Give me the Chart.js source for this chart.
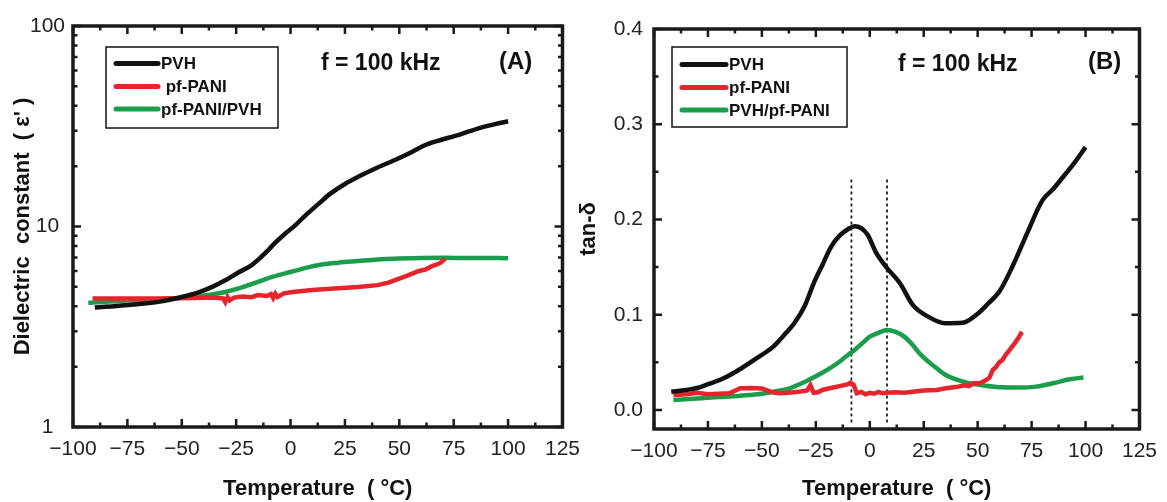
<!DOCTYPE html>
<html>
<head>
<meta charset="utf-8">
<script src="https://cdn.jsdelivr.net/npm/chart.js@4.4.1/dist/chart.umd.min.js"></script>
<style>
  body { margin: 0; background: #fff; }
  #wrap { position: relative; width: 1167px; height: 502px; overflow: hidden; }
  #chartA { position: absolute; left: 0; top: 0; }
  #chartB { position: absolute; left: 570px; top: 0; }
</style>
</head>
<body>
<div id="wrap">
  <canvas id="chartA" width="590" height="502"></canvas>
  <canvas id="chartB" width="597" height="502"></canvas>
</div>
<script>
// (A) dielectric constant vs temperature
const tempPvhA = [-90, -76, -60, -50, -42, -36, -30, -24, -18, -12, -7, -2, 2, 7, 13, 18, 25, 32, 40, 49, 56, 62, 69, 76, 82, 88, 94, 100];
const epsPvhA = [3.94, 4.05, 4.22, 4.45, 4.71, 5.0, 5.39, 5.9, 6.4, 7.3, 8.3, 9.3, 10.1, 11.4, 13.0, 14.5, 16.3, 17.9, 19.7, 21.7, 23.6, 25.5, 27.0, 28.4, 29.8, 31.2, 32.4, 33.5];

const tempPaniA = [-91, -75, -60, -45, -35, -31, -30, -29, -28, -26, -22, -18, -15, -11, -9, -8, -7, -6, -3, 0, 10, 20, 31, 40, 45, 49, 54, 59, 62, 65, 67, 69, 71];
const epsPaniA = [4.37, 4.38, 4.38, 4.4, 4.42, 4.38, 4.2, 4.45, 4.28, 4.42, 4.48, 4.44, 4.55, 4.5, 4.6, 4.4, 4.62, 4.45, 4.64, 4.7, 4.82, 4.9, 4.99, 5.1, 5.25, 5.45, 5.7, 6.0, 6.1, 6.35, 6.45, 6.6, 6.88];

const tempMixA = [-93, -75, -60, -45, -38, -30, -22, -15, -8, 0, 8, 15, 22, 31, 40, 50, 60, 70, 80, 90, 100];
const epsMixA = [4.16, 4.28, 4.35, 4.45, 4.55, 4.71, 4.98, 5.29, 5.62, 5.93, 6.25, 6.48, 6.6, 6.72, 6.84, 6.92, 6.97, 6.98, 6.97, 6.96, 6.95];

// (B) tan delta vs temperature
const tempPvhB = [-92, -85, -80, -75, -68, -60, -52, -45, -40, -35, -30, -26, -22, -18, -14, -10, -7, -4, -1, 3, 8, 14, 20, 27, 35, 43, 50, 55, 60, 66, 73, 80, 85, 89, 95, 100];
const tanPvhB = [0.019, 0.021, 0.023, 0.027, 0.033, 0.043, 0.055, 0.066, 0.078, 0.091, 0.11, 0.133, 0.152, 0.171, 0.183, 0.19, 0.193, 0.191, 0.184, 0.165, 0.149, 0.133, 0.11, 0.098, 0.091, 0.0915, 0.101, 0.112, 0.124, 0.150, 0.186, 0.22, 0.232, 0.243, 0.26, 0.276];

const tempPaniB = [-91, -85, -80, -75, -70, -65, -60, -55, -50, -45, -42, -38, -33, -29, -27.5, -26, -24, -22, -18, -14, -10, -9, -7.5, -6, -4, -2, 0, 2, 4, 6, 8, 12, 16, 20, 25, 31, 36, 40, 44, 46, 48, 51, 54, 55.5, 57, 58.5, 60, 61.5, 63, 64.5, 66, 67.5, 69, 70.5];
const tanPaniB = [0.0158, 0.0165, 0.018, 0.0165, 0.017, 0.0175, 0.0228, 0.023, 0.0225, 0.0185, 0.0175, 0.018, 0.019, 0.0205, 0.026, 0.018, 0.0185, 0.021, 0.023, 0.025, 0.027, 0.0287, 0.0265, 0.0175, 0.019, 0.0165, 0.018, 0.017, 0.019, 0.0175, 0.018, 0.0185, 0.018, 0.019, 0.0205, 0.021, 0.023, 0.024, 0.026, 0.025, 0.028, 0.028, 0.0315, 0.034, 0.042, 0.045, 0.05, 0.0525, 0.058, 0.062, 0.0665, 0.071, 0.076, 0.082];

const tempMixB = [-91, -80, -70, -60, -50, -45, -38, -30, -22, -15, -10, -7, -3, 0, 4, 8, 12, 16, 20, 23, 27, 31, 35, 40, 46, 52, 61, 70, 77, 85, 92, 99];
const tanMixB = [0.0105, 0.012, 0.0135, 0.015, 0.017, 0.019, 0.022, 0.0297, 0.039, 0.049, 0.058, 0.063, 0.071, 0.077, 0.081, 0.084, 0.082, 0.077, 0.068, 0.0595, 0.051, 0.0438, 0.037, 0.032, 0.028, 0.026, 0.0238, 0.0235, 0.0245, 0.028, 0.032, 0.034];

// dotted guides at the two peaks
const peakTemps = [-8.5, 8];
const guideTan = [0.242, -0.015];

const xTickVals = [-100, -75, -50, -25, 0, 25, 50, 75, 100, 125];
const yTickValsA = [1, 10, 100];
const yTickValsB = [0, 0.1, 0.2, 0.3, 0.4];

const BLACK = '#111111', RED = '#e6242b', GREEN = '#1b9e4b';
Chart.defaults.font.family = "'Liberation Sans', Arial, sans-serif";
Chart.defaults.color = '#222';

function pts(xs, ys) {
  return xs.map((x, i) => ({ x: x, y: ys[i] }));
}

function series(label, xs, ys, color, smooth) {
  return {
    label: label,
    data: pts(xs, ys),
    borderColor: color,
    borderWidth: 4.5,
    pointRadius: 0,
    fill: false,
    tension: smooth ? 0.4 : 0,
    cubicInterpolationMode: smooth ? 'monotone' : 'default'
  };
}

function minors(majors, log) {
  const out = [];
  for (let i = 0; i < majors.length - 1; i++) {
    if (log) { for (let k = 2; k < 10; k++) out.push(majors[i] * k); }
    else out.push((majors[i] + majors[i + 1]) / 2);
  }
  return out;
}

// box + inward ticks on all four sides
const frameTicks = {
  id: 'frameTicks',
  afterDatasetsDraw(chart, args, opts) {
    const { ctx, chartArea: a } = chart;
    const sx = chart.scales.x, sy = chart.scales.y;
    ctx.save();
    ctx.strokeStyle = '#1a1a1a';
    ctx.lineWidth = 2.5;
    ctx.beginPath();
    const xm = (v, len) => {
      const p = sx.getPixelForValue(v);
      ctx.moveTo(p, a.bottom); ctx.lineTo(p, a.bottom - len);
      ctx.moveTo(p, a.top); ctx.lineTo(p, a.top + len);
    };
    const ym = (v, len) => {
      const p = sy.getPixelForValue(v);
      ctx.moveTo(a.left, p); ctx.lineTo(a.left + len, p);
      ctx.moveTo(a.right, p); ctx.lineTo(a.right - len, p);
    };
    opts.xMajor.forEach(v => xm(v, 8));
    minors(opts.xMajor, false).forEach(v => xm(v, 4.5));
    opts.yMajor.forEach(v => ym(v, 8));
    minors(opts.yMajor, opts.yLog).forEach(v => ym(v, 4.5));
    ctx.stroke();
    ctx.lineWidth = 3.5;
    ctx.strokeRect(a.left, a.top, a.right - a.left, a.bottom - a.top);
    ctx.restore();
  }
};

// boxed legend and panel notes
const decor = {
  id: 'decor',
  afterDraw(chart, args, opts) {
    const ctx = chart.ctx;
    const lg = opts.legend;
    ctx.save();
    ctx.fillStyle = '#fff';
    ctx.fillRect(lg.x, lg.y, lg.w, lg.h);
    ctx.strokeStyle = '#111';
    ctx.lineWidth = 1.5;
    ctx.strokeRect(lg.x, lg.y, lg.w, lg.h);
    ctx.font = "bold 17px 'Liberation Sans', Arial, sans-serif";
    ctx.textBaseline = 'middle';
    ctx.textAlign = 'left';
    const items = chart.data.datasets.filter(d => d.label);
    items.forEach((d, i) => {
      const y = lg.rows[i];
      ctx.strokeStyle = d.borderColor;
      ctx.lineWidth = 5;
      ctx.lineCap = 'round';
      ctx.beginPath();
      ctx.moveTo(lg.lineX[0], y);
      ctx.lineTo(lg.lineX[1], y);
      ctx.stroke();
      ctx.fillStyle = '#111';
      ctx.fillText(d.label, lg.textX, y + 1);
    });
    opts.notes.forEach(n => {
      ctx.font = "bold " + n.size + "px 'Liberation Sans', Arial, sans-serif";
      ctx.fillStyle = '#111';
      ctx.fillText(n.text, n.x, n.y);
    });
    ctx.restore();
  }
};

const tickFont = { size: 21 };
const titleFont = { size: 22, weight: 'bold' };
const fmtX = v => (v < 0 ? '\u2212' + Math.abs(v) : String(v));

function xScale(height) {
  return {
    type: 'linear',
    min: -100, max: 125,
    grid: { display: false, drawTicks: false },
    border: { display: false },
    ticks: { stepSize: 25, autoSkip: false, maxRotation: 0, padding: 10, font: tickFont, callback: fmtX },
    title: { display: true, text: 'Temperature  ( \u00B0C)', font: titleFont, color: '#111', padding: { top: 0, bottom: 0 } },
    afterFit(s) { s.height = height; }
  };
}

new Chart(document.getElementById('chartA'), {
  type: 'line',
  data: {
    datasets: [
      series('PVH', tempPvhA, epsPvhA, BLACK, true),
      series(' pf-PANI', tempPaniA, epsPaniA, RED, false),
      series('pf-PANI/PVH', tempMixA, epsMixA, GREEN, true)
    ]
  },
  options: {
    responsive: false,
    animation: false,
    devicePixelRatio: 1,
    layout: { padding: { top: 26, right: 24, left: 0, bottom: 0 } },
    plugins: {
      legend: { display: false },
      tooltip: { enabled: false },
      frameTicks: { xMajor: xTickVals, yMajor: yTickValsA, yLog: true },
      decor: {
        legend: { x: 106, y: 47, w: 172, h: 81, rows: [63.5, 86.5, 109], lineX: [116, 158], textX: 161 },
        notes: [
          { text: 'f = 100 kHz', x: 321, y: 64, size: 23 },
          { text: '(A)', x: 499, y: 62, size: 24 }
        ]
      }
    },
    scales: {
      x: xScale(75),
      y: {
        type: 'logarithmic',
        min: 1, max: 100,
        grid: { display: false, drawTicks: false },
        border: { display: false },
        ticks: {
          autoSkip: false, padding: 8, crossAlign: 'center', font: tickFont,
          callback: v => (yTickValsA.includes(v) ? String(v) : '')
        },
        title: { display: true, text: "Dielectric  constant  ( \u03B5' )", font: titleFont, color: '#111', padding: { top: 10, bottom: 0 } },
        afterFit(s) { s.width = 73; }
      }
    }
  },
  plugins: [frameTicks, decor]
});

const guide = x => ({
  data: pts([x, x], guideTan),
  borderColor: '#222',
  borderWidth: 1.8,
  borderDash: [3, 3],
  pointRadius: 0,
  fill: false
});

new Chart(document.getElementById('chartB'), {
  type: 'line',
  data: {
    datasets: [
      series('PVH', tempPvhB, tanPvhB, BLACK, true),
      series('pf-PANI', tempPaniB, tanPaniB, RED, false),
      series('PVH/pf-PANI', tempMixB, tanMixB, GREEN, true),
      guide(peakTemps[0]),
      guide(peakTemps[1])
    ]
  },
  options: {
    responsive: false,
    animation: false,
    devicePixelRatio: 1,
    layout: { padding: { top: 29, right: 21, left: 0, bottom: 0 } },
    plugins: {
      legend: { display: false },
      tooltip: { enabled: false },
      frameTicks: { xMajor: xTickVals, yMajor: yTickValsB, yLog: false },
      decor: {
        legend: { x: 102, y: 47, w: 175, h: 80, rows: [64.5, 87.5, 110], lineX: [112, 156], textX: 159 },
        notes: [
          { text: 'f = 100 kHz', x: 328, y: 65, size: 23 },
          { text: '(B)', x: 518, y: 62, size: 24 }
        ]
      }
    },
    scales: {
      x: xScale(73),
      y: {
        type: 'linear',
        min: -0.02, max: 0.4,
        grid: { display: false, drawTicks: false },
        border: { display: false },
        ticks: { stepSize: 0.1, includeBounds: false, autoSkip: false, padding: 11, font: tickFont, callback: v => v.toFixed(1) },
        title: { display: true, text: 'tan-\u03B4', font: titleFont, color: '#111', padding: { top: 6, bottom: 0 } },
        afterFit(s) { s.width = 84; }
      }
    }
  },
  plugins: [frameTicks, decor]
});
</script>
</body>
</html>
